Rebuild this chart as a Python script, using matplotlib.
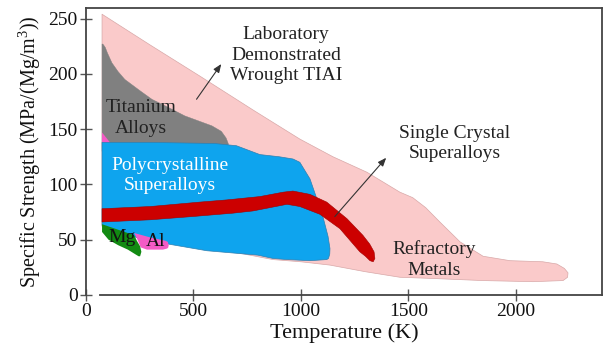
import matplotlib
matplotlib.use("Agg")
import matplotlib.pyplot as plt
from matplotlib.patches import Polygon

plt.rcParams['font.family'] = ['Liberation Serif', 'DejaVu Serif']
plt.rcParams['mathtext.fontset'] = 'custom'
plt.rcParams['mathtext.rm'] = 'Liberation Serif'
plt.rcParams['mathtext.it'] = 'Liberation Serif:italic'

# ---- region outlines (Temperature K, Specific strength) ----
pink_x = [75, 300, 530, 780, 995, 1149, 1307, 1460, 1520, 1580, 1646, 1740, 1847, 1972,
          2125, 2190, 2225, 2242, 2240, 2219, 2079, 1847, 1600, 1460, 1300, 1135, 1000,
          870, 600, 75]
pink_y = [254, 226, 198, 167, 141, 125, 111, 93, 88, 79, 66, 48, 35, 31,
          30, 28, 24, 20, 16, 13, 12, 13, 15, 16, 21, 27, 30,
          32, 42, 62]

gray_x = [75, 79, 90, 100, 121, 150, 181, 250, 307, 380, 460, 530, 586, 630, 652, 662, 665, 75]
gray_y = [227, 227, 224, 219, 210, 202, 195, 185, 177, 170, 162, 157, 153, 148, 142, 137, 130, 130]

mag_x = [75, 112, 75]
mag_y = [147, 138, 130]

blue_x = [75, 300, 600, 700, 809, 900, 963, 995, 1020, 1042, 1074, 1102, 1126, 1135, 1134,
          1128, 1120, 1042, 935, 870, 800, 562, 265, 75]
blue_y = [138, 138, 137, 135, 127, 125, 123, 120, 112, 105, 87, 71, 53, 42, 37,
          33, 32, 31, 32, 33, 36, 40, 50, 63]

red_x = [75, 300, 530, 656, 809, 918, 963, 1042, 1120, 1214, 1288, 1320, 1340, 1344, 1336, 1321,
         1300, 1274, 1181, 1088, 995, 935, 856, 777, 684, 500, 300, 75]
red_y = [78, 80, 84, 86, 89, 93, 94, 91, 84, 69, 54, 46, 39, 33, 30, 31,
         35, 39, 60, 73, 80, 82, 79, 76, 74, 71, 68, 66]

al_x = [225, 300, 370, 381, 385, 383, 378, 358, 284, 255, 240]
al_y = [56, 52, 49, 48, 45, 43, 42, 41, 41, 43, 50]

mg_x = [75, 75, 105, 150, 195, 228, 245, 252, 258, 252, 237, 225, 150, 75]
mg_y = [64, 57, 50, 45, 41, 37, 35, 35, 39, 44, 49, 54, 59, 64]

x_ticks = [0, 500, 1000, 1500, 2000]
y_ticks = [0, 50, 100, 150, 200, 250]

fig = plt.figure(figsize=(6.05, 3.61), dpi=100)
ax = fig.add_axes([0.142, 0.183, 0.853, 0.796])

def region(xs, ys, color, edge=None, lw=0.0, z=1):
    p = Polygon(list(zip(xs, ys)), closed=True, facecolor=color,
                edgecolor=edge if edge else color, linewidth=lw, zorder=z,
                joinstyle='round')
    ax.add_patch(p)

region(pink_x, pink_y, '#FACACA', '#D8A8A8', 0.5, 1)
region(gray_x, gray_y, '#808080', '#808080', 0.3, 2)
region(mag_x, mag_y, '#F45BC6', None, 0.0, 2)
region(blue_x, blue_y, '#0EA4EE', '#2F7FB0', 0.5, 3)
region(red_x, red_y, '#CC0000', '#A00000', 0.4, 4)
region(al_x, al_y, '#F45BC6', None, 0.0, 5)
region(mg_x, mg_y, '#128A12', None, 0.0, 6)

fs = 14
ls = 1.25
ax.text(930, 217, 'Laboratory\nDemonstrated\nWrought TIAI', ha='center', va='center',
        fontsize=fs, color='#222222', linespacing=ls, zorder=10)
ax.text(1716, 137, 'Single Crystal\nSuperalloys', ha='center', va='center',
        fontsize=fs, color='#222222', linespacing=ls, zorder=10)
ax.text(1619, 32, 'Refractory\nMetals', ha='center', va='center',
        fontsize=fs, color='#222222', linespacing=ls, zorder=10)
ax.text(255, 160, 'Titanium\nAlloys', ha='center', va='center',
        fontsize=fs, color='#222222', linespacing=ls, zorder=10)
ax.text(390, 108, 'Polycrystalline\nSuperalloys', ha='center', va='center',
        fontsize=fs, color='white', linespacing=ls, zorder=10)
ax.text(170, 52, 'Mg', ha='center', va='center', fontsize=fs, color='#111111', zorder=10)
ax.text(326, 48, 'Al', ha='center', va='center', fontsize=fs, color='#111111', zorder=10)

arrow = dict(arrowstyle='-|>,head_length=0.5,head_width=0.2', color='#333333', lw=0.8)
ax.annotate('', xy=(637, 211), xytext=(507, 175), arrowprops=arrow, zorder=11)
ax.annotate('', xy=(1405, 126), xytext=(1149, 69), arrowprops=arrow, zorder=11)

ax.set_xlim(0, 2400)
ax.set_ylim(0, 260)
ax.set_xticks(x_ticks)
ax.set_yticks(y_ticks)
ax.tick_params(direction='inout', length=8, width=1.0, color='#555555',
               labelsize=14, pad=2, labelcolor='#111111')
for s in ax.spines.values():
    s.set_color('#444444')
    s.set_linewidth(1.3)
ax.spines['bottom'].set_bounds(65, 2400)

ax.set_xlabel('Temperature (K)', fontsize=16, labelpad=2, color='#111111')
ax.set_ylabel('Specific Strength (MPa/(Mg/m$^{3}$))', fontsize=14.5, labelpad=4, color='#111111')

fig.savefig('out.png', dpi=100)
